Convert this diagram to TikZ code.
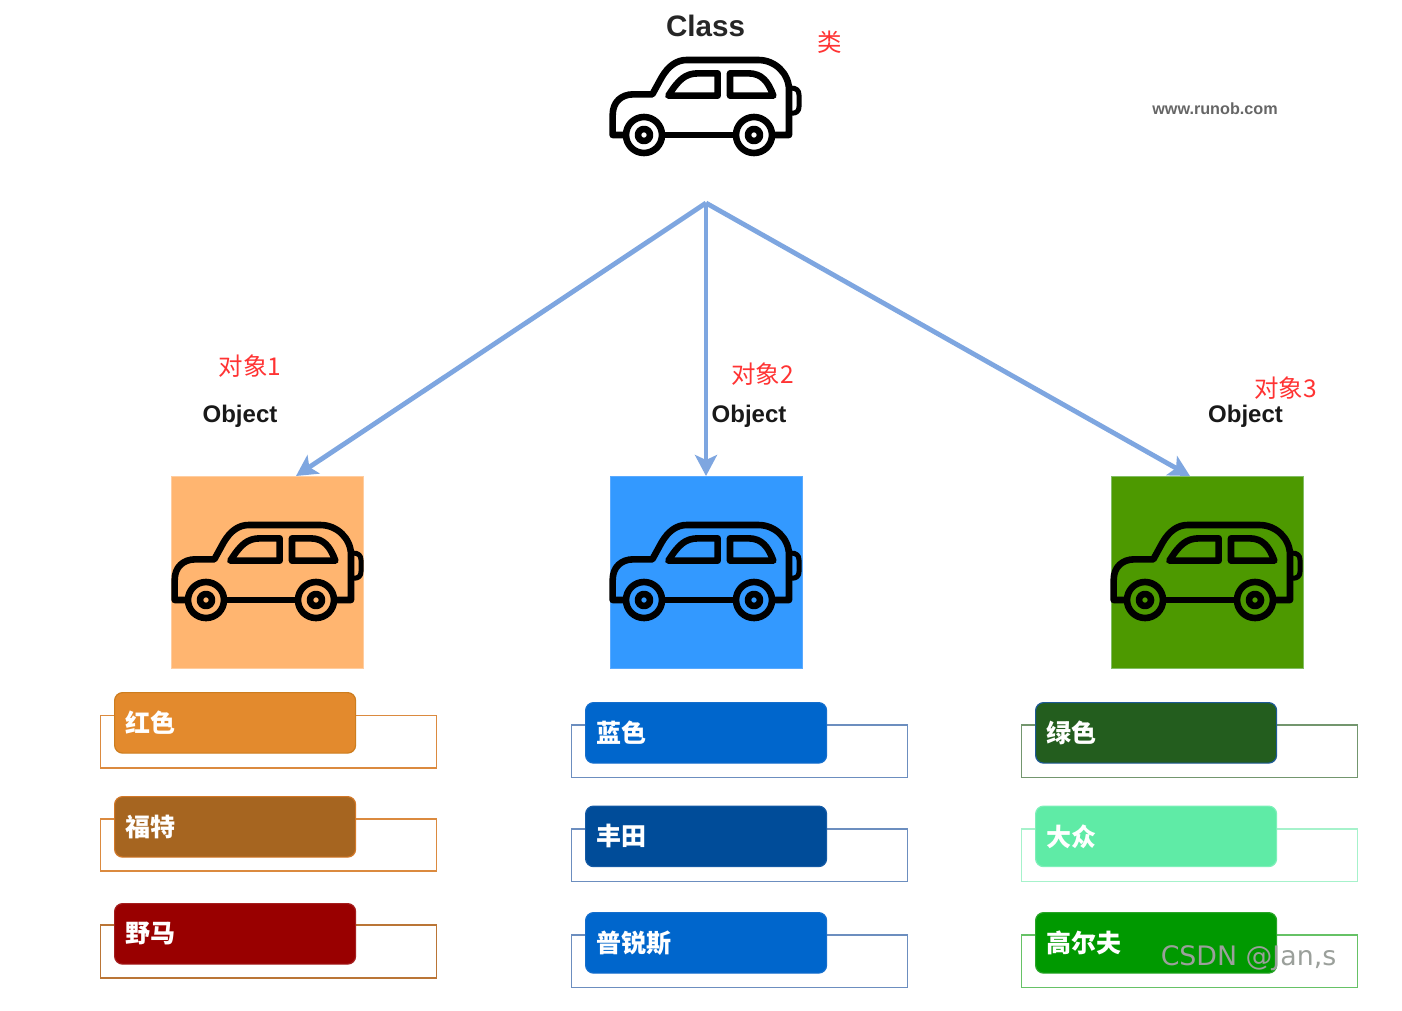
\documentclass[tikz,border=0pt]{standalone}
\usepackage{fontspec}
\setmainfont{Liberation Sans}
\newfontfamily\cjk{Noto Sans CJK SC}
\newfontfamily\wmfont{DejaVu Sans}
\usetikzlibrary{arrows.meta}
\definecolor{arrowblue}{HTML}{7EA6E0}
\definecolor{redlab}{HTML}{FF3333}
\definecolor{orangeline}{HTML}{DB8A3F}
\definecolor{blueline}{HTML}{6C8EBF}
\tikzset{
  x=1pt,y=-1pt,
  carline/.style={line width=6.6pt,line join=round,line cap=round,draw=black},
  swatch/.style={anchor=north west,inner sep=0pt,minimum width=192pt,minimum height=192pt,line width=0.7pt},
  frame/.style={anchor=north west,inner sep=0pt,minimum width=336pt,minimum height=52.5pt,draw,line width=1.9pt,fill=white},
  tag/.style={anchor=north west,inner sep=0pt,inner xsep=10.5pt,minimum width=241pt,minimum height=60.5pt,
     text width=220pt,align=left,rounded corners=8pt,line width=1.2pt,text=white,font=\cjk\bfseries\fontsize{25}{28}\selectfont},
  arrowline/.style={draw=arrowblue,line width=4.8pt,-{Stealth[length=21pt,width=22pt,inset=5pt]}},
  redtext/.style={text=redlab,inner sep=0pt,font=\cjk\fontsize{24.5}{28}\selectfont},
  headtext/.style={inner sep=0pt,text=black!90,font=\bfseries\fontsize{24}{28}\selectfont},
}
\newcommand{\carshape}[2]{%
\begin{scope}[shift={(#1,#2)},x=0.33333pt,y=-0.33333pt]
  \draw[carline] (105,405) -- (68,405) -- (68,345) .. controls (68,305) and (95,283) .. (130,283)
     -- (187,283) -- (215,232) .. controls (235,198) and (260,180) .. (290,180) -- (505,180)
     .. controls (555,180) and (597,220) .. (597,270) -- (597,405) -- (555,405);
  \draw[carline] (225,405) -- (430,405);
  \draw[carline] (235,287) -- (383,287) -- (383,220) -- (325,220) .. controls (285,220) and (265,240) .. (235,287) -- cycle;
  \draw[carline] (420,287) -- (420,220) -- (475,220) .. controls (515,220) and (535,245) .. (550,287) -- cycle;
  \draw[line width=5pt,line join=round,draw=black] (603,264) .. controls (620,264) and (627,272) .. (627,285)
     -- (627,320) .. controls (627,333) and (620,340) .. (603,340);
  \draw[carline] (162,405) circle (54);
  \draw[carline] (492,405) circle (54);
  \draw[carline] (162,405) circle (18);
  \draw[carline] (492,405) circle (18);
\end{scope}}
\begin{document}
\begin{tikzpicture}
\useasboundingbox (0,0) rectangle (1402,1010);
\fill[white] (0,0) rectangle (1402,1010);

% swatches
\node[swatch,fill={rgb,255:red,255;green,181;blue,112},draw={rgb,255:red,255;green,205;blue,160}] (objA) at (171,476) {};
\node[swatch,fill={rgb,255:red,51;green,153;blue,255},draw={rgb,255:red,90;green,170;blue,255}] (objB) at (609.5,476) {};
\node[swatch,fill={rgb,255:red,77;green,153;blue,0},draw={rgb,255:red,130;green,190;blue,100}] (objC) at (1110.5,476) {};

% cars
\carshape{590}{0}
\carshape{152}{465}
\carshape{590}{465}
\carshape{1091}{465}

% arrows
\coordinate (apex) at (706,203);
\coordinate (endA) at (296,476);
\coordinate (endB) at (706,476);
\coordinate (endC) at (1190,476);
\draw[arrowline] (apex) -- (endA);
\draw[arrowline] (apex) -- (endB);
\draw[arrowline] (apex) -- (endC);

% texts
\node[inner sep=0pt,text=black!85,font=\bfseries\fontsize{29.6}{32}\selectfont] (classLab) at (705.5,26) {Class};
\node[redtext] (leiLab) at (830,42) {类};
\node[inner sep=0pt,text=black!60,font=\bfseries\fontsize{16.2}{18}\selectfont] (wwwLab) at (1215,109) {www.runob.com};
\node[redtext] (r1) at (250,366) {对象1};
\node[redtext] (r2) at (762.5,374) {对象2};
\node[redtext] (r3) at (1285.5,388) {对象3};
\node[headtext] (o1) at (240,416.5) {Object};
\node[headtext] (o2) at (749,416.5) {Object};
\node[headtext] (o3) at (1245.5,416.5) {Object};

% left column
\node[frame,draw=orangeline] (fa1) at (99.5,714.5) {};
\node[frame,draw=orangeline] (fa2) at (99.5,817.7) {};
\node[frame,draw=orangeline!85!black] (fa3) at (99.5,924.2) {};
\node[tag,fill={rgb,255:red,227;green,138;blue,45},draw={rgb,255:red,205;green,125;blue,30}] (ta1) at (114,692) {红色};
\node[tag,fill={rgb,255:red,166;green,101;blue,32},draw={rgb,255:red,210;green,120;blue,40}] (ta2) at (114,796) {福特};
\node[tag,fill={rgb,255:red,153;green,0;blue,0},draw={rgb,255:red,165;green,30;blue,30}] (ta3) at (114,903) {野马};

% middle column
\node[frame,draw=blueline] (fb1) at (570.5,724) {};
\node[frame,draw=blueline] (fb2) at (570.5,828) {};
\node[frame,draw=blueline] (fb3) at (570.5,934) {};
\node[tag,fill={rgb,255:red,0;green,102;blue,204},draw={rgb,255:red,20;green,110;blue,205}] (tb1) at (585,702) {蓝色};
\node[tag,fill={rgb,255:red,0;green,76;blue,153},draw={rgb,255:red,20;green,90;blue,165}] (tb2) at (585,805.5) {丰田};
\node[tag,fill={rgb,255:red,0;green,102;blue,204},draw={rgb,255:red,20;green,110;blue,205}] (tb3) at (585,912) {普锐斯};

% right column
\node[frame,draw={rgb,255:red,115;green,150;blue,110}] (fc1) at (1020.5,724) {};
\node[frame,draw={rgb,255:red,166;green,242;blue,203}] (fc2) at (1020.5,828) {};
\node[frame,draw={rgb,255:red,102;green,194;blue,102}] (fc3) at (1020.5,934) {};
\node[tag,fill={rgb,255:red,35;green,93;blue,30},draw={rgb,255:red,30;green,90;blue,150}] (tc1) at (1035,702) {绿色};
\node[tag,fill={rgb,255:red,95;green,235;blue,166},draw={rgb,255:red,125;green,240;blue,185}] (tc2) at (1035,805.5) {大众};
\node[tag,fill={rgb,255:red,0;green,153;blue,0},draw={rgb,255:red,40;green,165;blue,40}] (tc3) at (1035,912) {高尔夫};

% watermark
\node[inner sep=0pt,text={rgb,255:red,155;green,160;blue,155},font=\wmfont\fontsize{26.8}{30}\selectfont] (wm) at (1248.5,958) {CSDN @Jan,s};
\end{tikzpicture}
\end{document}
